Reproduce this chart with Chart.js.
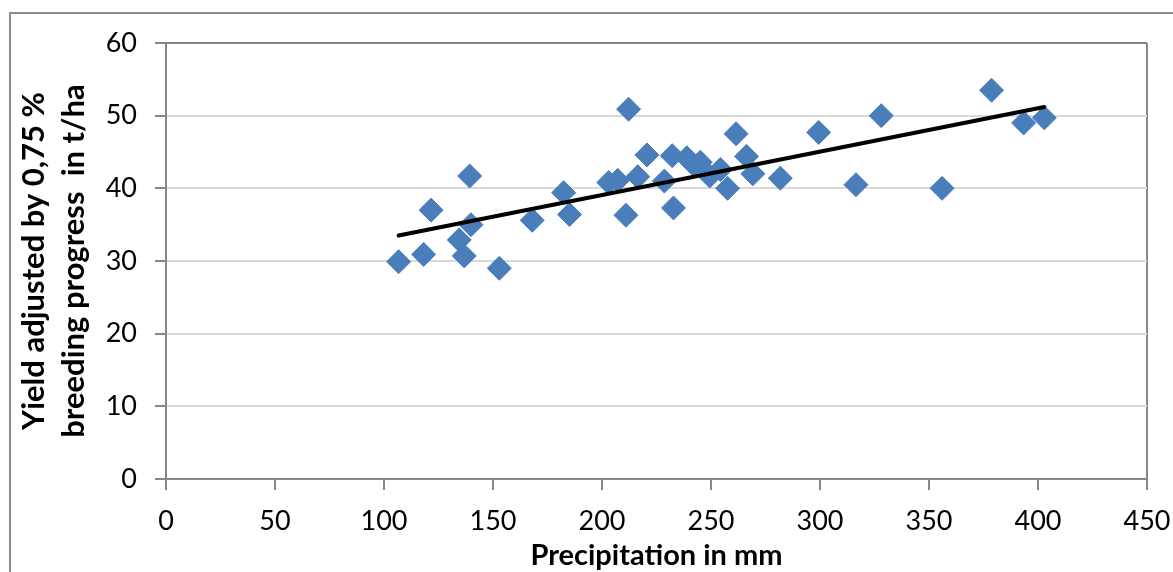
<!DOCTYPE html>
<html>
<head>
<meta charset="utf-8">
<script src="https://cdn.jsdelivr.net/npm/chart.js@4.4.1/dist/chart.umd.min.js"></script>
<style>
  html, body { margin: 0; padding: 0; background: #fff; }
  #wrap { width: 1173px; height: 572px; position: relative; }
</style>
</head>
<body>
<div id="wrap"><canvas id="c" width="1173" height="572"></canvas></div>
<script>
// Precipitation (mm) and adjusted yield (t/ha) per season
const precipitation = [106.7, 118.2, 121.6, 134.5, 136.8, 139.3, 139.9, 152.9, 168.0, 182.4,
  185.1, 203.1, 207.2, 211.0, 212.2, 216.4, 220.6, 228.6, 232.2, 232.8,
  238.9, 242.3, 245.1, 249.4, 254.3, 257.6, 261.5, 266.3, 269.2, 281.8,
  299.4, 316.5, 328.1, 356.0, 378.7, 393.4, 402.9];
const yieldAdj = [29.9, 30.9, 37.0, 32.9, 30.7, 41.7, 35.0, 29.0, 35.6, 39.4,
  36.4, 40.8, 41.1, 36.3, 50.9, 41.6, 44.6, 41.0, 44.5, 37.3,
  44.2, 43.2, 43.6, 41.7, 42.6, 40.0, 47.5, 44.4, 42.0, 41.4,
  47.7, 40.5, 50.0, 40.0, 53.5, 49.0, 49.7];

// Linear trend line end points
const trendX = [106.7, 402.9];
const trendY = [33.5, 51.2];

// Axis tick values
const xTicks = [0, 50, 100, 150, 200, 250, 300, 350, 400, 450];
const yTicks = [0, 10, 20, 30, 40, 50, 60];

const axisGray = '#868686';
const gridGray = '#d9d9d9';
const fontFamily = 'Lato, "Open Sans", sans-serif';

const points = precipitation.map((x, i) => ({ x: x, y: yieldAdj[i] }));
const trend = trendX.map((x, i) => ({ x: x, y: trendY[i] }));

// Outer frame of the chart object (left and top edges)
const frame = {
  id: 'frame',
  afterDraw(chart) {
    const ctx = chart.ctx;
    ctx.save();
    ctx.strokeStyle = '#8c8c8c';
    ctx.lineWidth = 2;
    ctx.beginPath();
    ctx.moveTo(10, 572);
    ctx.lineTo(10, 13);
    ctx.lineTo(1173, 13);
    ctx.stroke();
    ctx.restore();
  }
};

new Chart(document.getElementById('c'), {
  type: 'scatter',
  data: {
    datasets: [
      {
        type: 'line',
        data: trend,
        borderColor: '#000000',
        borderWidth: 4,
        borderCapStyle: 'round',
        pointRadius: 0,
        fill: false,
        order: 0
      },
      {
        data: points,
        pointStyle: 'rectRot',
        pointRadius: 12,
        pointHoverRadius: 12,
        backgroundColor: '#4A7EBB',
        borderColor: '#4A7EBB',
        borderWidth: 1,
        order: 1
      }
    ]
  },
  options: {
    responsive: false,
    animation: false,
    layout: { padding: { left: 0, right: 26, top: 43, bottom: 0 } },
    plugins: { legend: { display: false }, tooltip: { enabled: false } },
    scales: {
      x: {
        type: 'linear',
        min: 0,
        max: 450,
        afterBuildTicks(scale) { scale.ticks = xTicks.map(v => ({ value: v })); },
        afterFit(scale) {
          scale.height = 93;
          scale.paddingLeft = 0;
          scale.paddingRight = 0;
        },
        border: { color: axisGray, width: 2 },
        grid: {
          drawOnChartArea: true,
          color: c => (c.tick && c.tick.value === 450 ? axisGray : 'rgba(0,0,0,0)'),
          lineWidth: 2,
          tickColor: axisGray,
          tickLength: 11
        },
        ticks: {
          color: '#000',
          padding: 15,
          maxRotation: 0,
          font: { family: fontFamily, size: 27 }
        },
        title: {
          display: true,
          text: 'Precipitation in mm',
          color: '#000',
          padding: { top: 0, bottom: 0 },
          font: { family: fontFamily, size: 29, weight: 'bold', lineHeight: 1.1 }
        }
      },
      y: {
        type: 'linear',
        min: 0,
        max: 60,
        afterBuildTicks(scale) { scale.ticks = yTicks.map(v => ({ value: v })); },
        afterFit(scale) { scale.width = 166; },
        border: { color: axisGray, width: 2 },
        grid: {
          color: c => (c.tick && c.tick.value === 60 ? axisGray : gridGray),
          lineWidth: 2,
          tickColor: axisGray,
          tickLength: 11
        },
        ticks: {
          color: '#000',
          padding: 18,
          font: { family: fontFamily, size: 27 }
        },
        title: {
          display: true,
          text: ['Yield adjusted by 0,75 %', 'breeding progress  in t/ha'],
          color: '#000',
          padding: { top: 14, bottom: 0 },
          font: { family: fontFamily, size: 31, weight: 'bold', lineHeight: 1.3 }
        }
      }
    }
  },
  plugins: [frame]
});
</script>
</body>
</html>
